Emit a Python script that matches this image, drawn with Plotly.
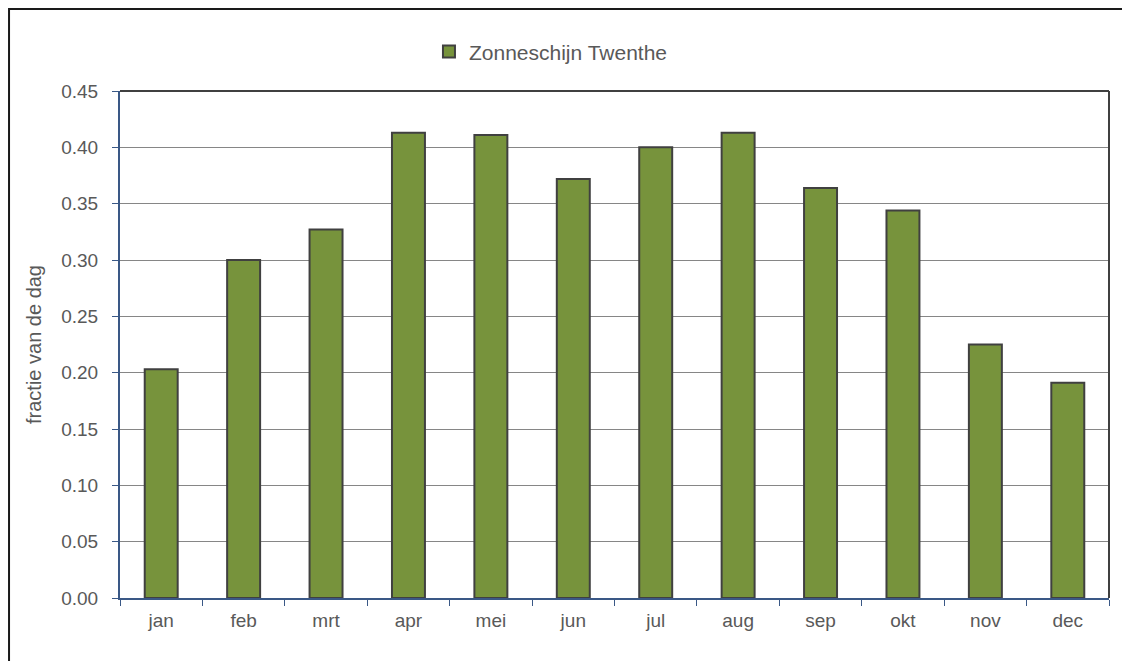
import plotly.graph_objects as go

# maanden en fractie zonneschijn
maanden = ["jan", "feb", "mrt", "apr", "mei", "jun", "jul", "aug", "sep", "okt", "nov", "dec"]
zonneschijn = [0.203, 0.300, 0.327, 0.413, 0.411, 0.372, 0.400, 0.413, 0.364, 0.344, 0.225, 0.191]
y_ticks = [0.00, 0.05, 0.10, 0.15, 0.20, 0.25, 0.30, 0.35, 0.40, 0.45]

fig = go.Figure()
fig.add_trace(go.Bar(
    x=maanden, y=zonneschijn,
    name="Zonneschijn Twenthe",
    width=0.4,
    marker=dict(color="#77933C", line=dict(color="#404040", width=2)),
))

axis_blue = "#3A5886"
fig.update_layout(
    width=1130, height=661,
    margin=dict(l=112, r=29, t=83, b=71),
    plot_bgcolor="white", paper_bgcolor="white",
    font=dict(family="Liberation Sans, Arial, sans-serif", color="#595959", size=19),
    showlegend=True,
    legend=dict(x=0.3124, y=1.077, xanchor="left", yanchor="middle",
                font=dict(size=21, color="#595959"), itemwidth=30),
)
fig.update_yaxes(
    range=[0, 0.45], tickvals=y_ticks, tickformat=".2f",
    showgrid=True, gridcolor="#868686", gridwidth=1,
    showline=True, linecolor=axis_blue, linewidth=2,
    ticks="outside", ticklen=6, tickcolor=axis_blue, ticklabelstandoff=10,
    tickfont=dict(size=19),
    title=dict(text="fractie van de dag", font=dict(size=20), standoff=14),
    zeroline=False,
)
fig.update_xaxes(
    showline=True, linecolor=axis_blue, linewidth=1.5,
    ticks="outside", ticklen=6, tickcolor=axis_blue, tickson="boundaries",
    ticklabelstandoff=4, tickfont=dict(size=19),
)

# rand van het plotgebied (boven en rechts)
fig.add_shape(type="line", xref="paper", yref="paper", x0=0, x1=1, y0=1, y1=1,
              line=dict(color="#404040", width=2))
fig.add_shape(type="line", xref="paper", yref="paper", x0=1, x1=1, y0=0, y1=1,
              line=dict(color="#404040", width=2))
# buitenkader
fig.add_shape(type="rect", xref="paper", yref="paper", x0=-0.1122, x1=1.06, y0=-0.2, y1=1.1617,
              line=dict(color="#1a1a1a", width=2), layer="below")

fig.write_html("out.html")
